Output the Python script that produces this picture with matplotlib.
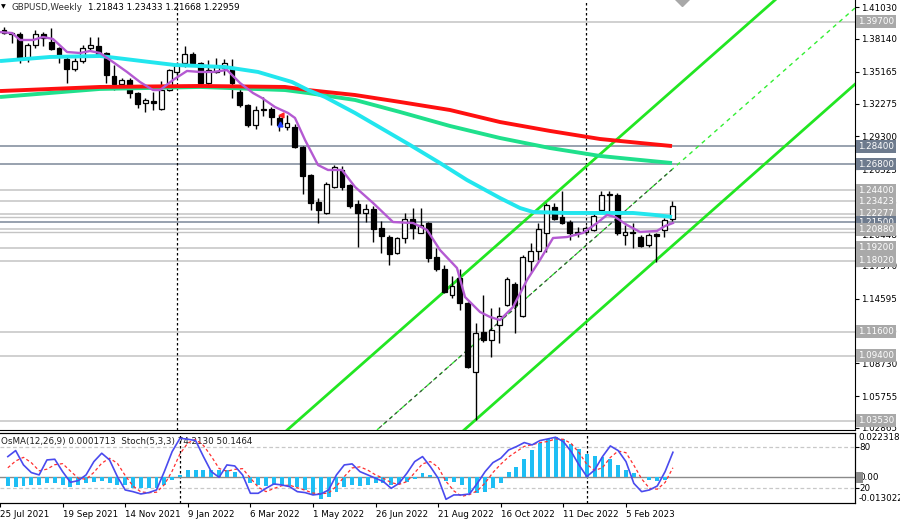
import matplotlib
matplotlib.use("Agg")
import matplotlib.pyplot as plt
import matplotlib.transforms as mtransforms
from matplotlib.patches import Rectangle
import numpy as np

plt.rcParams['font.family'] = ['DejaVu Sans']

# weekly bars, bar 1 = week of 1 Aug 2021
opens = [1.3896, 1.3868, 1.3859, 1.3642, 1.3760, 1.3859, 1.3787, 1.3732, 1.3633, 1.3542,
         1.3614, 1.3732, 1.3751, 1.3687, 1.3478, 1.3406, 1.3442, 1.3324, 1.3234, 1.3252,
         1.3180, 1.3351, 1.3515, 1.3596, 1.3678, 1.3596, 1.3415, 1.3515, 1.3551, 1.3551,
         1.3333, 1.3215, 1.3034, 1.3170, 1.3179, 1.3098, 1.3016, 1.3016, 1.2834, 1.2581,
         1.2336, 1.2236, 1.2472, 1.2626, 1.2490, 1.2317, 1.2236, 1.2272, 1.2100, 1.2018,
         1.1873, 1.2009, 1.2181, 1.2054, 1.2145, 1.1837, 1.1728, 1.1492, 1.1646, 1.1420,
         1.0794, 1.1157, 1.1084, 1.1220, 1.1401, 1.1592, 1.1302, 1.1801, 1.1891, 1.2054,
         1.2290, 1.2200, 1.2154, 1.2064, 1.2064, 1.2081, 1.2263, 1.2399, 1.2399, 1.2036,
         1.2064, 1.2018, 1.1946, 1.2045, 1.2082, 1.21843]
highs = [1.3925, 1.3880, 1.3877, 1.3778, 1.3896, 1.3877, 1.3914, 1.3741, 1.3651, 1.3642,
         1.3760, 1.3832, 1.3832, 1.3695, 1.3578, 1.3460, 1.3460, 1.3333, 1.3279, 1.3333,
         1.3433, 1.3542, 1.3605, 1.3751, 1.3696, 1.3605, 1.3624, 1.3642, 1.3633, 1.3633,
         1.3397, 1.3225, 1.3206, 1.3288, 1.3197, 1.3125, 1.3125, 1.3043, 1.2840, 1.2590,
         1.2372, 1.2517, 1.2671, 1.2662, 1.2499, 1.2354, 1.2317, 1.2299, 1.2163, 1.2036,
         1.2018, 1.2236, 1.2281, 1.2281, 1.2150, 1.1919, 1.1764, 1.1665, 1.1728, 1.1429,
         1.1238, 1.1492, 1.1374, 1.1383, 1.1655, 1.1610, 1.1855, 1.1964, 1.2145, 1.2326,
         1.2326, 1.2435, 1.2172, 1.2109, 1.2118, 1.2236, 1.2435, 1.2435, 1.2417, 1.2127,
         1.2145, 1.2036, 1.2054, 1.2054, 1.2190, 1.23433]
lows = [1.3859, 1.3780, 1.3596, 1.3605, 1.3732, 1.3751, 1.3714, 1.3596, 1.3415, 1.3524,
        1.3596, 1.3714, 1.3669, 1.3415, 1.3351, 1.3397, 1.3279, 1.3188, 1.3152, 1.3170,
        1.3170, 1.3342, 1.3487, 1.3560, 1.3578, 1.3406, 1.3397, 1.3506, 1.3487, 1.3279,
        1.3197, 1.3016, 1.2998, 1.3116, 1.3034, 1.2980, 1.2989, 1.2825, 1.2408, 1.2263,
        1.2145, 1.2230, 1.2463, 1.2444, 1.2281, 1.1928, 1.2154, 1.1973, 1.1873, 1.1764,
        1.1864, 1.1964, 1.2000, 1.2054, 1.1792, 1.1710, 1.1510, 1.1465, 1.1356, 1.0830,
        1.0358, 1.1066, 1.0930, 1.1057, 1.1392, 1.1147, 1.1293, 1.1701, 1.1810, 1.1882,
        1.2172, 1.2140, 1.1991, 1.2018, 1.2045, 1.2072, 1.2254, 1.2254, 1.2036, 1.1946,
        1.1919, 1.1928, 1.1928, 1.1792, 1.2018, 1.21668]
closes = [1.3868, 1.3860, 1.3642, 1.3760, 1.3859, 1.3823, 1.3723, 1.3669, 1.3542, 1.3614,
          1.3732, 1.3760, 1.3678, 1.3487, 1.3406, 1.3442, 1.3324, 1.3225, 1.3261, 1.3234,
          1.3351, 1.3533, 1.3578, 1.3678, 1.3596, 1.3415, 1.3533, 1.3560, 1.3596, 1.3415,
          1.3215, 1.3034, 1.3170, 1.3179, 1.3107, 1.3034, 1.3052, 1.2834, 1.2571, 1.2326,
          1.2263, 1.2499, 1.2653, 1.2472, 1.2299, 1.2236, 1.2272, 1.2091, 1.2027, 1.1864,
          1.2009, 1.2181, 1.2100, 1.2127, 1.1828, 1.1728, 1.1519, 1.1574, 1.1420, 1.0839,
          1.1147, 1.1084, 1.1175, 1.1302, 1.1637, 1.1401, 1.1837, 1.1891, 1.2091, 1.2308,
          1.2180, 1.2145, 1.2054, 1.2054, 1.2100, 1.2208, 1.2399, 1.2408, 1.2054, 1.2064,
          1.2054, 1.1937, 1.2036, 1.2027, 1.2172, 1.22959]

# moving averages (bar position, price)
ma_fast_x = [0.49, 2.02, 3.04, 4.69, 5.96, 7.23, 9.02, 10.67, 11.94, 13.21, 14.87, 16.65,
             18.3, 19.96, 20.85, 22.5, 24.28, 25.94, 27.59, 29.37, 31.03, 32.68, 33.82,
             35.48, 37.13, 38.02, 39.3, 40.95, 42.22, 44.0, 45.66, 47.95, 50.49, 53.04,
             54.82, 56.47, 58.63, 59.65, 61.56, 62.83, 64.1, 65.76, 67.54, 69.19, 70.85,
             72.63, 74.66, 76.45, 77.72, 78.74, 80.26, 81.92, 84.08, 85.1, 86.11]
ma_fast_y = [1.3877, 1.3868, 1.3805, 1.3805, 1.3832, 1.3814, 1.3696, 1.3687, 1.3705, 1.3687,
             1.3605, 1.3515, 1.3424, 1.3351, 1.3351, 1.3442, 1.3524, 1.3515, 1.3515, 1.3533,
             1.3415, 1.3324, 1.3279, 1.3197, 1.3143, 1.3098, 1.2898, 1.2671, 1.2626, 1.2626,
             1.2472, 1.2327, 1.2154, 1.2145, 1.2082, 1.1900, 1.1737, 1.1474, 1.1338, 1.1293,
             1.1265, 1.1383, 1.1628, 1.1810, 1.2009, 1.2018, 1.2055, 1.2145, 1.2218, 1.2200,
             1.2127, 1.2064, 1.2073, 1.2118, 1.2145]

ma50_x = [0.49, 6.85, 13.21, 19.58, 22.76, 29.12, 33.32, 37.64, 39.68, 41.84, 45.66, 52.65,
          56.47, 59.9, 64.1, 66.65, 68.3, 72.63, 76.83, 81.03, 83.82, 85.99]
ma50_y = [1.3614, 1.3651, 1.3660, 1.3605, 1.3578, 1.3560, 1.3515, 1.3424, 1.3351, 1.3288,
          1.3143, 1.2853, 1.2689, 1.2535, 1.2372, 1.2281, 1.2245, 1.2236, 1.2236, 1.2236,
          1.2218, 1.2200]

ma_slow_x = [0.49, 13.21, 25.94, 36.75, 39.68, 45.66, 51.38, 57.74, 64.1, 70.47, 76.83, 81.92, 85.99]
ma200_y = [1.3342, 1.3379, 1.3388, 1.3379, 1.3351, 1.3306, 1.3243, 1.3170, 1.3061, 1.2980,
           1.2907, 1.2871, 1.2843]
ma100_y = [1.3288, 1.3361, 1.3379, 1.3351, 1.3324, 1.3261, 1.3152, 1.3025, 1.2916, 1.2825,
           1.2753, 1.2717, 1.2689]

# channel lines (bar, price)
chan_upper = [(36.75, 1.0250), (99.1, 1.4168)]
chan_lower = [(59.4, 1.0259), (109.3, 1.3406)]
chan_mid = [(48.45, 1.0268), (109.27, 1.4095)]

levels = [1.39700, 1.28400, 1.26800, 1.24400, 1.23423, 1.22277, 1.21500, 1.20880,
          1.19200, 1.18020, 1.11600, 1.09400, 1.03530]
level_dark = [False, True, True, False, False, False, True, False,
              False, False, False, False, False]
extra_lines = [1.2200, 1.2060]

price_ticks = [1.02865, 1.05755, 1.08730, 1.11620, 1.14595, 1.17570, 1.20448, 1.23423,
               1.26325, 1.29300, 1.32275, 1.35165, 1.38140, 1.41030]

date_labels = ['25 Jul 2021', '19 Sep 2021', '14 Nov 2021', '9 Jan 2022', '6 Mar 2022',
               '1 May 2022', '26 Jun 2022', '21 Aug 2022', '16 Oct 2022', '11 Dec 2022',
               '5 Feb 2023']
year_bars = [23, 75]

osma = [-0.0045, -0.0048, -0.0045, -0.0040, -0.0040, -0.0031, -0.0031, -0.0040, -0.0048, -0.0040,
        -0.0031, -0.0022, -0.0017, -0.0028, -0.0040, -0.0040, -0.0053, -0.0057, -0.0057, -0.0057,
        -0.0040, -0.0014, 0.0012, 0.0038, 0.0038, 0.0038, 0.0034, 0.0038, 0.0038, 0.0024,
        -0.0005, -0.0031, -0.0040, -0.0045, -0.0040, -0.0040, -0.0045, -0.0048, -0.0065, -0.0091,
        -0.0108, -0.0100, -0.0074, -0.0048, -0.0040, -0.0045, -0.0040, -0.0031, -0.0031, -0.0040,
        -0.0034, -0.0022, -0.0010, 0.0021, 0.0012, -0.0005, -0.0017, -0.0022, -0.0040, -0.0079,
        -0.0079, -0.0074, -0.0057, -0.0028, 0.0024, 0.0050, 0.0093, 0.0136, 0.0172, 0.0193,
        0.0201, 0.0193, 0.0167, 0.0141, 0.0115, 0.0107, 0.0103, 0.0093, 0.0064, 0.0038,
        0.0021, 0.0003, -0.0014, -0.0019, -0.0014, 0.0002]
stoch_k = [66.4, 75.2, 54.2, 43.0, 39.6, 61.5, 62.5, 44.4, 28.8, 31.2,
           39.6, 59.1, 71.3, 61.5, 37.1, 17.6, 15.1, 11.7, 13.7, 17.6,
           44.4, 73.7, 93.2, 91.8, 89.8, 66.4, 44.4, 36.1, 54.2, 52.7,
           39.6, 12.7, 12.7, 20.0, 26.4, 24.9, 22.5, 15.1, 13.7, 10.3,
           11.7, 17.6, 39.6, 54.2, 55.7, 44.4, 39.6, 34.7, 29.8, 20.0,
           27.3, 42.0, 59.1, 66.4, 51.7, 34.7, 3.9, 10.3, 10.3, 11.7,
           27.3, 44.4, 57.6, 64.0, 76.1, 81.0, 86.9, 83.5, 89.8, 92.2,
           94.7, 88.3, 73.7, 54.2, 37.1, 46.9, 66.4, 82.0, 75.2, 59.1,
           27.3, 15.1, 17.6, 23.4, 44.4, 72.7]
stoch_d = [50.0, 60.0, 65.3, 57.5, 45.6, 48.0, 54.5, 56.1, 45.2, 34.8,
           33.2, 43.3, 56.7, 64.0, 56.6, 38.7, 23.3, 14.8, 13.5, 14.3,
           25.2, 45.2, 70.4, 86.2, 91.6, 82.7, 66.9, 49.0, 44.9, 47.7,
           48.8, 35.0, 21.7, 15.1, 19.7, 23.8, 24.6, 20.8, 17.1, 13.0,
           11.9, 13.2, 23.0, 37.1, 49.8, 51.4, 46.6, 39.6, 34.7, 28.2,
           25.7, 29.8, 42.8, 55.8, 59.1, 50.9, 30.1, 16.3, 8.2, 10.8,
           16.4, 27.8, 43.1, 55.3, 65.9, 73.7, 81.3, 83.8, 86.7, 88.5,
           92.2, 91.7, 85.6, 72.1, 55.0, 46.1, 50.1, 65.1, 74.5, 72.1,
           53.9, 33.8, 20.0, 18.7, 28.5, 50.1]

FS = 6.3
OS_LO, OS_HI = -0.0130226, 0.0223182
ST_LO, ST_HI = -1.5, 100.9

fig = plt.figure(figsize=(9, 5.22), dpi=100)
fig.patch.set_facecolor('white')
ax = fig.add_axes([0, 1 - 430 / 522, 855 / 900, 430 / 522])
axi = fig.add_axes([0, 1 - 503 / 522, 855 / 900, 70 / 522])

xlim = (0.49, 109.27)
ax.set_xlim(*xlim)
ax.set_ylim(1.02676, 1.41677)

bars = np.arange(1, len(closes) + 1)
o, h, l, c = map(np.array, (opens, highs, lows, closes))
up = c >= o

# horizontal levels
for lev, dark in zip(levels, level_dark):
    ax.axhline(lev, color='#7c8799' if dark else '#c4c4c4', lw=1.1, zorder=1)
for lev in extra_lines:
    ax.axhline(lev, color='#c4c4c4', lw=1.0, zorder=1)

# candles
ax.vlines(bars, l, h, color='black', lw=1.0, zorder=4)
body_lo = np.minimum(o, c)
body_h = np.maximum(np.abs(c - o), 0.0005)
ax.bar(bars[up], body_h[up], bottom=body_lo[up], width=0.62, facecolor='white',
       edgecolor='black', lw=0.9, zorder=5)
ax.bar(bars[~up], body_h[~up], bottom=body_lo[~up], width=0.62, facecolor='black',
       edgecolor='black', lw=0.9, zorder=5)

# moving averages
ax.plot(ma_slow_x, ma100_y, color='#1fe08c', lw=2.8, zorder=6, solid_capstyle='butt')
ax.plot(ma_slow_x, ma200_y, color='#ff1010', lw=2.8, zorder=6, solid_capstyle='butt')
ax.plot(ma50_x, ma50_y, color='#22e6ee', lw=2.8, zorder=6, solid_capstyle='butt')
ax.plot(ma_fast_x, ma_fast_y, color='#b45ad2', lw=1.7, zorder=7)

# channel
for seg in (chan_upper, chan_lower):
    ax.plot([seg[0][0], seg[1][0]], [seg[0][1], seg[1][1]], color='#22e622', lw=2.0, zorder=3)
ax.plot([chan_mid[0][0], chan_mid[1][0]], [chan_mid[0][1], chan_mid[1][1]],
        color='#33ee33', lw=1.0, ls=(0, (3, 3)), zorder=3)
t_end = (bars[-1] - chan_mid[0][0]) / (chan_mid[1][0] - chan_mid[0][0])
ax.plot([chan_mid[0][0], bars[-1]],
        [chan_mid[0][1], chan_mid[0][1] + t_end * (chan_mid[1][1] - chan_mid[0][1])],
        color='#404040', lw=0.8, ls=(3, (3, 3)), zorder=3)

# trade arrows and object marker
ax.plot([36.3], [1.3125], marker='<', color='#ff2020', ms=3.5, zorder=8)
ax.plot([36.1], [1.3043], marker='^', color='#2040ff', ms=3.5, zorder=8)
ax.plot([87.3], [1.4177], marker='D', color='#a8a8a8', ms=7, clip_on=False, zorder=8)

for yb in year_bars:
    ax.axvline(yb, color='black', lw=0.9, ls=(0, (2, 2)), zorder=2)
    axi.axvline(yb, color='black', lw=0.9, ls=(0, (2, 2)), zorder=2)

# axes styling
for s in ('top', 'left'):
    ax.spines[s].set_visible(False)
ax.spines['right'].set_color('black')
ax.spines['bottom'].set_color('black')
ax.set_xticks([])
ax.yaxis.tick_right()
ax.set_yticks(price_ticks, ['%.5f' % t for t in price_ticks])
ax.tick_params(axis='y', length=3, width=0.8, pad=1.5, labelsize=FS, colors='black')

trans = mtransforms.blended_transform_factory(ax.transAxes, ax.transData)
for lev, dark in zip(levels, level_dark):
    ax.text(1.0035, lev, '%.5f' % lev, transform=trans, ha='left', va='center',
            fontsize=FS, color='white', clip_on=False, zorder=10,
            bbox=dict(boxstyle='square,pad=0.22', fc='#6e7b8e' if dark else '#a9a9a9', ec='none'))

fig.text(1 / 900, 1 - 7 / 522, '\u25bc', fontsize=4.5, va='center', ha='left', color='black')
fig.text(12 / 900, 1 - 7 / 522, 'GBPUSD,Weekly', fontsize=FS, va='center', ha='left', color='#303030')
fig.text(88 / 900, 1 - 7 / 522, '1.21843 1.23433 1.21668 1.22959', fontsize=FS,
         va='center', ha='left', color='black')

# indicator window
axi.set_xlim(*xlim)
axi.set_ylim(ST_LO, ST_HI)
axo = axi.twinx()
axo.set_ylim(OS_LO, OS_HI)
axo.axhline(0, color='#8a8a8a', lw=1.0, zorder=1)
axo.bar(bars, osma, width=0.5, color='#1ebef4', zorder=2)
axo.set_yticks([])
axi.axhline(80, color='#c8c8c8', lw=0.9, ls=(0, (3, 2)), zorder=0)
axi.axhline(20, color='#c8c8c8', lw=0.9, ls=(0, (3, 2)), zorder=0)
axo.plot(bars, np.interp(stoch_d, [ST_LO, ST_HI], [OS_LO, OS_HI]),
         color='#ff3030', lw=0.9, ls=(0, (2.5, 2)), zorder=4)
axo.plot(bars, np.interp(stoch_k, [ST_LO, ST_HI], [OS_LO, OS_HI]),
         color='#4a4aee', lw=1.2, zorder=5)

for a in (axi, axo):
    a.spines['left'].set_visible(False)
    for s in ('top', 'right', 'bottom'):
        a.spines[s].set_color('black')
axi.set_yticks([80, 20], ['', ''])
axi.yaxis.tick_right()
axi.tick_params(axis='y', length=3, width=0.8)
axi.set_xticks(np.arange(len(date_labels)) * 8, date_labels)
axi.tick_params(axis='x', length=3, width=0.8, pad=2, labelsize=FS, colors='black')
for lbl in axi.get_xticklabels():
    lbl.set_ha('left')

ti = mtransforms.blended_transform_factory(axi.transAxes, axi.transData)
axi.text(1.005, 80, '80', transform=ti, fontsize=FS, va='center', ha='left', clip_on=False)
axi.text(1.005, 20, '20', transform=ti, fontsize=FS, va='center', ha='left', clip_on=False)
axi.text(1.004, ST_HI, '0.0223182', transform=ti, fontsize=FS, va='top', ha='left', clip_on=False)
axi.text(1.004, ST_LO, '-0.0130226', transform=ti, fontsize=FS, va='bottom', ha='left', clip_on=False)
zero_st = ST_LO + (ST_HI - ST_LO) * (0 - OS_LO) / (OS_HI - OS_LO)
fig.patches.append(Rectangle((856 / 900, 1 - 483 / 522), 7 / 900, 11 / 522,
                             transform=fig.transFigure, facecolor='#8c8c8c',
                             edgecolor='none', zorder=9))
axi.text(1.005, zero_st, '0.00', transform=ti, fontsize=FS, va='center', ha='left',
         clip_on=False, zorder=10)
axi.text(0.0015, 0.88, 'OsMA(12,26,9) 0.0001713  Stoch(5,3,3) 74.2130 50.1464',
         transform=axi.transAxes, fontsize=FS, va='center', ha='left', color='#202020', zorder=1)

fig.savefig('out.png', dpi=100, facecolor='white')
